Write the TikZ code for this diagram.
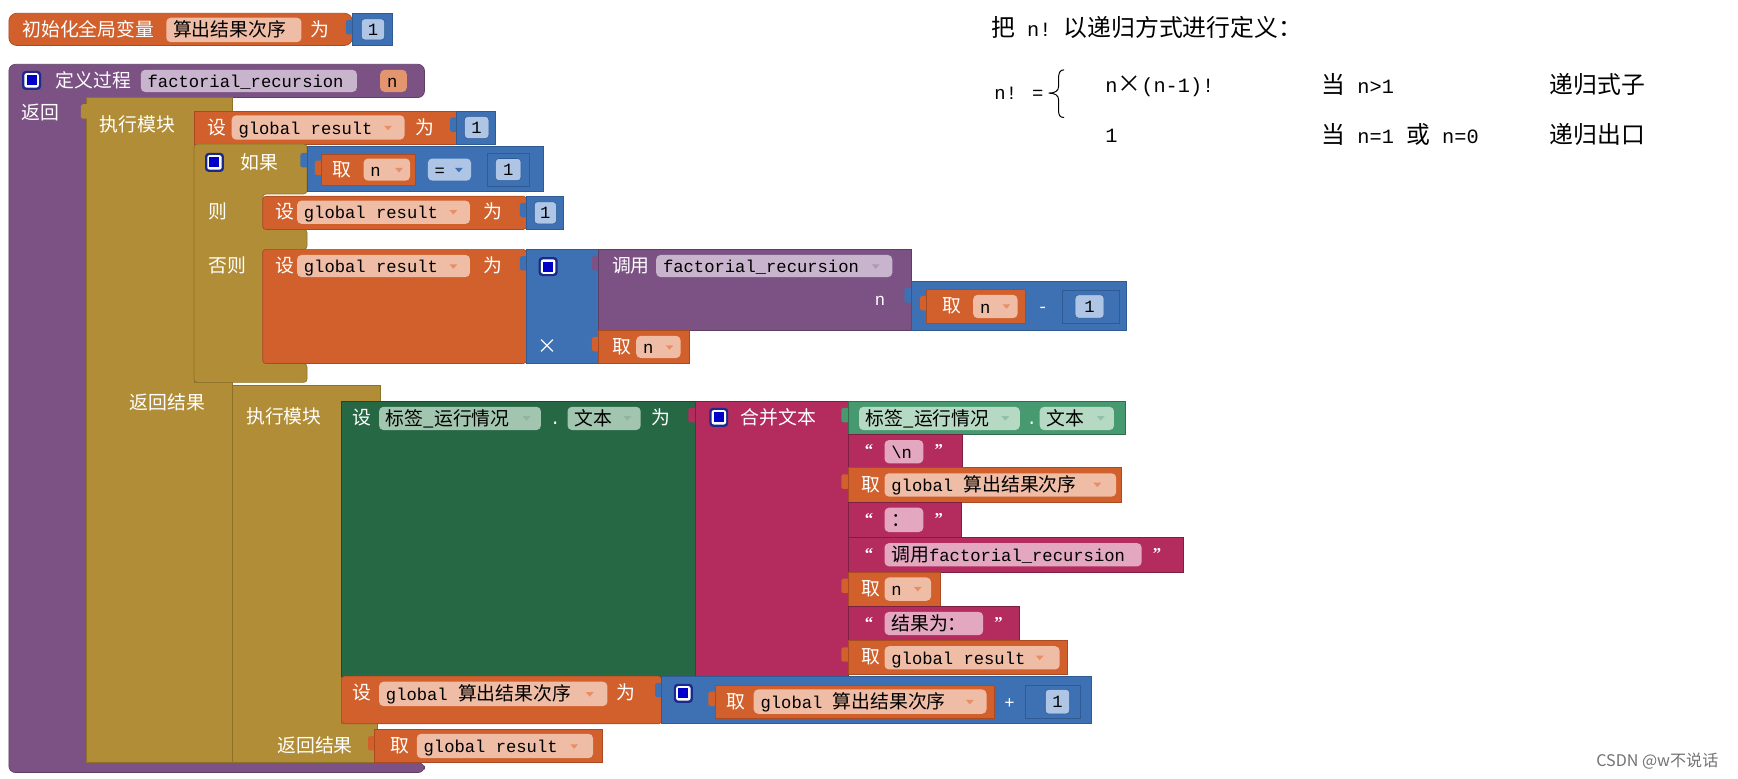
\documentclass[tikz,border=0pt]{standalone}
\usepackage{fontspec}
\setmainfont{Liberation Serif}
\newfontfamily\cjk{Noto Sans CJK SC}
\newfontfamily\mono{Liberation Mono}
\newcommand\cjkL{\cjk\fontsize{17}{20}\selectfont}
\newcommand\mtx{\mono\fontsize{15.5}{18}\selectfont}
\newcommand\cjkR{\cjk\fontsize{21.5}{24}\selectfont}
\newcommand\monR{\mono\fontsize{18.3}{22}\selectfont}
\definecolor{orB}{HTML}{D1602C}
\definecolor{orD}{HTML}{A94A22}
\definecolor{orF}{HTML}{EFBCA5}
\definecolor{orA}{HTML}{E88E66}
\definecolor{orP}{HTML}{E3966E}
\definecolor{blB}{HTML}{3E71B4}
\definecolor{blD}{HTML}{2F5A92}
\definecolor{blF}{HTML}{AEC5E5}
\definecolor{puB}{HTML}{7B5283}
\definecolor{puD}{HTML}{5F3E66}
\definecolor{puF}{HTML}{C9B4CD}
\definecolor{olB}{HTML}{B08D36}
\definecolor{olD}{HTML}{8E7129}
\definecolor{gdB}{HTML}{266744}
\definecolor{gdF}{HTML}{A1C5AE}
\definecolor{gmB}{HTML}{479A6F}
\definecolor{gmF}{HTML}{B6D9C3}
\definecolor{mgB}{HTML}{B32C5D}
\definecolor{mgF}{HTML}{E3A7BF}
\definecolor{cbB}{HTML}{0000C8}
\definecolor{cbD}{HTML}{1A2A8A}
\tikzset{
  ob/.style={fill=orB, draw=orD, line width=0.6pt},
  bb/.style={fill=blB, draw=blD, line width=0.6pt},
  pb/.style={fill=puB, draw=puD, line width=0.6pt},
  olb/.style={fill=olB, draw=olD, line width=0.6pt},
  gdb/.style={fill=gdB, draw=gdB!70!black, line width=0.6pt},
  gmb/.style={fill=gmB, draw=gmB!70!black, line width=0.6pt},
  mgb/.style={fill=mgB, draw=mgB!70!black, line width=0.6pt},
  txt/.style={anchor=base west, inner sep=0pt},
}
% white label, x, centre y
\newcommand\lb[4][white]{\node[txt,text=#1,font=\cjkL] at (#2,{#3+6}) {#4};}
% field: fill, x1,y1,x2,y2, text
\newcommand\fd[6]{\fill[#1,rounded corners=4] (#2,#3) rectangle (#4,#5);
  \node[txt,text=black] at ({#2+6},{(#3+#5)/2+6}) {#6};}
% dropdown arrow: x, centre y, colour
\newcommand\dd[3]{\fill[#3] ({#1-3.5},{#2-1.5}) -- ({#1+3.5},{#2-1.5}) -- (#1,{#2+2.5}) -- cycle;}
% value tab: x, top y, colour
\newcommand\vtab[3]{\fill[#3,rounded corners=1.5] ({#1-6},{#2+6}) rectangle ({#1+1},{#2+19});}
% checkbox: x, y
\newcommand\chk[2]{\fill[cbD,rounded corners=3] (#1,#2) rectangle ({#1+17},{#2+17});
  \fill[white,rounded corners=2] ({#1+2},{#2+2}) rectangle ({#1+15},{#2+15});
  \fill[cbB] ({#1+4},{#2+4}) rectangle ({#1+13},{#2+13});}
% number field: x1,y1,x2,y2
\newcommand\num[4]{\filldraw[fill=blF,draw=blD,line width=0.5pt,rounded corners=3] (#1,#2) rectangle (#3,#4);
  \node[inner sep=0pt,text=black,font=\mtx] at ({(#1+#3)/2},{(#2+#4)/2}) {1};}
% quote marks
\newcommand\qt[3]{\node[txt,text=white,font=\bfseries\fontsize{15}{18}\selectfont] at (#1,{#2+6}) {#3};}
\begin{document}
\begin{tikzpicture}[x=1pt,y=-1pt]
\useasboundingbox (0,0) rectangle (1568,702);
\fill[white] (0,0) rectangle (1568,702);

% ---------------- init global
\filldraw[ob, rounded corners=7] (8,12) rectangle (318,41);
\vtab{318}{12}{blB}
\filldraw[bb] (318,12) rectangle (354,41);
\lb{20}{27}{初始化全局变量}
\fd{orF}{150}{16}{272}{38}{\cjkL 算出结果次序}
\lb{280}{27}{为}
\num{326}{17}{347}{36}

% ---------------- procedure
\filldraw[pb, rounded corners=6] (8,58) -- (383,58) -- (383,88) -- (78,88) -- (78,688) -- (383,688) -- (383,697) -- (8,697) -- cycle;
\chk{20}{64}
\lb{50}{73}{定义过程}
\fd{puF}{127}{63}{322}{83}{\mtx factorial\_recursion}
\fd{orP}{343}{63}{367}{83}{\mtx n}
\lb{19}{102}{返回}

% outer do-block
\filldraw[olb] (78,88) -- (210,88) -- (210,100) -- (175,100) -- (175,345) -- (210,345) -- (210,688) -- (78,688) -- cycle;
\vtab{79}{88}{olB}
\lb{90}{113}{执行模块}
\lb{117}{363}{返回结果}

% set result 1
\filldraw[ob] (175,100) rectangle (412,130);
\lb{187}{115}{设}
\fd{orF}{209}{104}{365}{126}{\mtx global result}
\dd{350}{115}{orA}
\lb{375}{115}{为}
\vtab{412}{100}{blB}
\filldraw[bb] (412,100) rectangle (447,130);
\num{419}{105}{441}{125}

% if block
\filldraw[olb, rounded corners=3] (175,130) -- (277,130) -- (277,175) -- (237,175) -- (237,207) -- (277,207) -- (277,225) -- (237,225) -- (237,328) -- (277,328) -- (277,345) -- (175,345) -- cycle;
\chk{185}{138}
\lb{217}{147}{如果}
\lb{188}{191}{则}
\lb{188}{240}{否则}

% condition n = 1
\vtab{277}{132}{blB}
\filldraw[bb] (277,132) rectangle (490,173);
\vtab{290}{139}{orB}
\filldraw[ob] (290,139) rectangle (375,167);
\lb{300}{153}{取}
\fd{orF}{328}{143}{370}{163}{\mtx n}
\dd{360}{153}{orA}
\fd{blF}{386}{143}{425}{163}{\mtx =}
\dd{414}{153}{blB}
\vtab{440}{138}{blB}
\filldraw[bb] (440,138) rectangle (478,168);
\num{447}{143}{470}{163}

% then: set result 1
\filldraw[ob, rounded corners=3] (237,177) rectangle (475,207);
\lb{248}{191}{设}
\fd{orF}{268}{181}{424}{202}{\mtx global result}
\dd{409}{191}{orA}
\lb{436}{191}{为}
\vtab{475}{177}{blB}
\filldraw[bb] (475,177) rectangle (508,207);
\num{482}{182}{502}{202}

% else: set result n * f(n-1)
\filldraw[ob, rounded corners=3] (237,225) rectangle (475,328);
\lb{248}{240}{设}
\fd{orF}{268}{230}{424}{250}{\mtx global result}
\dd{409}{240}{orA}
\lb{436}{240}{为}
\vtab{475}{225}{blB}
\filldraw[bb] (475,225) rectangle (540,328);
\chk{486}{232}
\node[txt,text=white,font=\cjk\fontsize{18}{20}\selectfont] at (485,319) {×};
\vtab{540}{225}{puB}
\filldraw[pb] (540,225) rectangle (822,298);
\lb{552}{240}{调用}
\fd{puF}{592}{230}{805}{250}{\mtx factorial\_recursion}
\dd{790}{240}{puB!60!white}
\node[txt,text=white,font=\mtx] at (789,276) {n};
\vtab{822}{254}{blB}
\filldraw[bb] (822,254) rectangle (1016,298);
\vtab{836}{261}{orB}
\filldraw[ob] (836,261) rectangle (925,292);
\lb{850}{276}{取}
\fd{orF}{878}{266}{918}{287}{\mtx n}
\dd{908}{276}{orA}
\node[txt,text=white,font=\mtx] at (936,282) {-};
\vtab{958}{262}{blB}
\filldraw[bb] (958,262) rectangle (1010,292);
\num{970}{266}{996}{287}
\vtab{540}{298}{orB}
\filldraw[ob] (540,298) rectangle (622,328);
\lb{552}{313}{取}
\fd{orF}{574}{303}{614}{323}{\mtx n}
\dd{604}{313}{orA}

% inner do-block
\vtab{210}{348}{olB}
\filldraw[olb] (210,348) -- (343,348) -- (343,362) -- (308,362) -- (308,653) -- (340,653) -- (340,688) -- (210,688) -- cycle;
\lb{222}{376}{执行模块}
\lb{250}{673}{返回结果}

% set label text
\filldraw[gdb] (308,362) rectangle (627,610);
\lb{318}{377}{设}
\fd{gdF}{342}{367}{488}{388}{\cjkL 标签\_运行情况}
\dd{475}{377}{gdB!50!white}
\node[txt,text=white,font=\mtx] at (496,383) {.};
\fd{gdF}{512}{367}{578}{388}{\cjkL 文本}
\dd{566}{377}{gdB!50!white}
\lb{588}{377}{为}

% join
\vtab{627}{362}{mgB}
\filldraw[mgb] (627,362) rectangle (765,610);
\chk{640}{368}
\lb{668}{377}{合并文本}

\vtab{765}{362}{gmB}
\filldraw[gmb] (765,362) rectangle (1015,392);
\fd{gmF}{775}{367}{920}{388}{\cjkL 标签\_运行情况}
\dd{907}{377}{gmB!60!white}
\node[txt,text=white,font=\mtx] at (926,383) {.};
\fd{gmF}{938}{367}{1005}{388}{\cjkL 文本}
\dd{993}{377}{gmB!60!white}

\vtab{765}{392}{mgB}
\filldraw[mgb] (765,392) rectangle (868,422);
\qt{780}{405}{“}
\fd{mgF}{798}{397}{833}{418}{\mtx \textbackslash n}
\qt{843}{405}{”}

\vtab{765}{422}{orB}
\filldraw[ob] (765,422) rectangle (1012,453);
\lb{777}{437}{取}
\fd{orF}{798}{427}{1007}{448}{\mtx global \cjkL 算出结果次序}
\dd{990}{437}{orA}

\vtab{765}{453}{mgB}
\filldraw[mgb] (765,453) rectangle (867,485);
\qt{780}{467}{“}
\fd{mgF}{798}{458}{833}{480}{\cjkL ：}
\qt{843}{467}{”}

\vtab{765}{485}{mgB}
\filldraw[mgb] (765,485) rectangle (1068,516);
\qt{780}{499}{“}
\fd{mgF}{798}{490}{1030}{511}{\cjkL 调用\mtx factorial\_recursion}
\qt{1040}{499}{”}

\vtab{765}{516}{orB}
\filldraw[ob] (765,516) rectangle (848,547);
\lb{777}{531}{取}
\fd{orF}{798}{521}{840}{542}{\mtx n}
\dd{828}{531}{orA}

\vtab{765}{547}{mgB}
\filldraw[mgb] (765,547) rectangle (920,578);
\qt{780}{561}{“}
\fd{mgF}{798}{552}{887}{573}{\cjkL 结果为：}
\qt{897}{561}{”}

\vtab{765}{578}{orB}
\filldraw[ob] (765,578) rectangle (963,608);
\lb{777}{593}{取}
\fd{orF}{798}{583}{956}{604}{\mtx global result}
\dd{938}{593}{orA}

% set counter
\filldraw[ob, rounded corners=3] (308,610) rectangle (597,653);
\lb{318}{625}{设}
\fd{orF}{342}{615}{548}{637}{\mtx global \cjkL 算出结果次序}
\dd{532}{626}{orA}
\lb{556}{625}{为}
\vtab{597}{610}{blB}
\filldraw[bb] (597,610) rectangle (985,653);
\chk{608}{617}
\vtab{645}{618}{orB}
\filldraw[ob] (645,618) rectangle (897,648);
\lb{655}{633}{取}
\fd{orF}{680}{622}{890}{644}{\mtx global \cjkL 算出结果次序}
\dd{875}{633}{orA}
\node[txt,text=white,font=\mtx] at (906,639) {+};
\vtab{925}{618}{blB}
\filldraw[bb] (925,618) rectangle (975,648);
\num{943}{622}{965}{644}

% return result
\vtab{338}{658}{orB}
\filldraw[ob] (338,658) rectangle (543,688);
\lb{352}{673}{取}
\fd{orF}{376}{662}{535}{684}{\mtx global result}
\dd{518}{673}{orA}

% ---------------- right text
\node[txt,font=\cjkR] at (894,{25+7.5}) {把\monR\ n!\ \cjkR 以递归方式进行定义：};
\node[txt,font=\mono\fontsize{17}{20}\selectfont] at (897,{84+5.5}) {n! =};
\draw[line width=0.9pt] (960,63) .. controls (956,63) and (955,66) .. (955,71) -- (955,78) .. controls (955,82) and (952,84) .. (946,84) .. controls (952,84) and (955,86) .. (955,90) -- (955,99) .. controls (955,104) and (956,106) .. (960,106);
\node[txt,font=\monR] at (997,{77+6.5}) {n\cjkR ×\monR (n-1)!};
\node[txt,font=\cjkR] at (1192,{77+7.5}) {当\monR\ n>1};
\node[txt,font=\cjkR] at (1398,{77+7.5}) {递归式子};
\node[txt,font=\monR] at (997,{122+6.5}) {1};
\node[txt,font=\cjkR] at (1192,{122+7.5}) {当\monR\ n=1 \cjkR 或\monR\ n=0};
\node[txt,font=\cjkR] at (1398,{122+7.5}) {递归出口};

\node[txt,text=black!55,font=\cjk\fontsize{14.5}{17}\selectfont] at (1440,{686+5.5}) {CSDN @w不说话};
\end{tikzpicture}
\end{document}
